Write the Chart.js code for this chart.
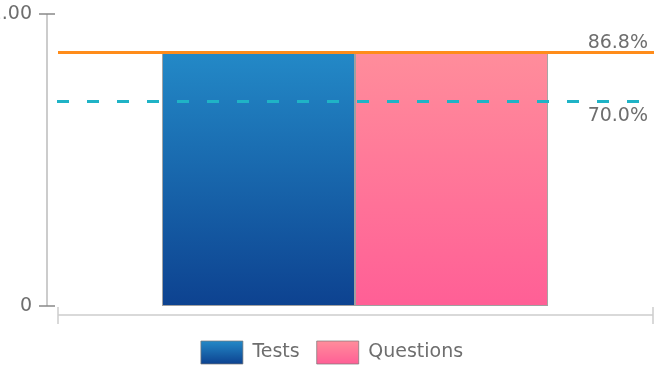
<!DOCTYPE html>
<html>
<head>
<meta charset="utf-8">
<script src="https://cdn.jsdelivr.net/npm/chart.js@4"></script>
<style>
  html, body { margin: 0; padding: 0; background: #fff; }
  #wrap { width: 654px; height: 366px; }
</style>
</head>
<body>
<div id="wrap"><canvas id="chart"></canvas></div>
<script>
// chart data
const categories = [''];
const seriesNames = ['Tests', 'Questions'];
const testsValues = [0.868];
const questionsValues = [0.868];
const yTickValues = [0, 1];
const yTickLabels = ['0', '1.00'];
const refValues = [0.868, 0.70];
const refLabels = ['86.8%', '70.0%'];

const gradStops = {
    Tests: ['#2389c7', '#0d4290'],
    Questions: ['#ff8d9b', '#ff5f96']
};

function barGradient(context, name) {
    const chart = context.chart;
    const area = chart.chartArea;
    if (!area || context.raw === undefined) return gradStops[name][1];
    const y = chart.scales.y;
    const g = chart.ctx.createLinearGradient(0, y.getPixelForValue(context.raw), 0, y.getPixelForValue(0));
    g.addColorStop(0, gradStops[name][0]);
    g.addColorStop(1, gradStops[name][1]);
    return g;
}

// axes drawn apart from the plot, plus the two reference lines
const extrasPlugin = {
    id: 'extras',
    beforeDraw(chart) {
        const legend = chart.legend;
        if (!legend || !legend.legendItems) return;
        legend.legendItems.forEach((item, i) => {
            const hb = legend.legendHitBoxes[i];
            if (!hb) return;
            const stops = gradStops[item.text];
            const g = chart.ctx.createLinearGradient(0, hb.top, 0, hb.top + hb.height);
            g.addColorStop(0, stops[0]);
            g.addColorStop(1, stops[1]);
            item.fillStyle = g;
        });
    },
    afterDatasetsDraw(chart) {
        const ctx = chart.ctx;
        const area = chart.chartArea;
        const y = chart.scales.y;
        ctx.save();

        // reference lines
        const y1 = y.getPixelForValue(refValues[0]);
        ctx.strokeStyle = '#ff8c1a';
        ctx.lineWidth = 3;
        ctx.beginPath();
        ctx.moveTo(area.left, y1);
        ctx.lineTo(chart.width, y1);
        ctx.stroke();

        const y2 = y.getPixelForValue(refValues[1]);
        ctx.strokeStyle = '#1fb3c6';
        ctx.setLineDash([12, 18]);
        ctx.beginPath();
        ctx.moveTo(area.left - 1, y2);
        ctx.lineTo(chart.width, y2);
        ctx.stroke();
        ctx.setLineDash([]);

        ctx.fillStyle = '#6e6e6e';
        ctx.font = '19px "DejaVu Sans"';
        ctx.textAlign = 'right';
        ctx.textBaseline = 'alphabetic';
        ctx.fillText(refLabels[0], chart.width - 6, y1 - 5);
        ctx.fillText(refLabels[1], chart.width - 6, y2 + 19);

        // y axis
        const ax = area.left - 11;
        ctx.strokeStyle = '#cccccc';
        ctx.lineWidth = 2;
        ctx.beginPath();
        ctx.moveTo(ax, y.getPixelForValue(yTickValues[yTickValues.length - 1]));
        ctx.lineTo(ax, y.getPixelForValue(yTickValues[0]));
        ctx.stroke();
        ctx.strokeStyle = '#888';
        ctx.lineWidth = 1.5;
        ctx.textBaseline = 'middle';
        yTickValues.forEach((v, i) => {
            const py = y.getPixelForValue(v);
            ctx.beginPath();
            ctx.moveTo(ax - 8, py);
            ctx.lineTo(ax + 8, py);
            ctx.stroke();
            ctx.fillText(yTickLabels[i], ax - 15, py);
        });

        // x axis
        const xy = area.bottom + 9;
        ctx.strokeStyle = '#d9d9d9';
        ctx.lineWidth = 2;
        ctx.beginPath();
        ctx.moveTo(area.left, xy);
        ctx.lineTo(area.right + 1, xy);
        ctx.stroke();
        ctx.strokeStyle = '#cccccc';
        ctx.lineWidth = 1.5;
        [area.left, area.right + 1].forEach(px => {
            ctx.beginPath();
            ctx.moveTo(px, xy - 8);
            ctx.lineTo(px, xy + 9);
            ctx.stroke();
        });
        ctx.restore();
    }
};

Chart.defaults.font.family = '"DejaVu Sans", sans-serif';
Chart.defaults.font.size = 19;
Chart.defaults.color = '#6e6e6e';

new Chart(document.getElementById('chart'), {
    type: 'bar',
    data: {
        labels: categories,
        datasets: [{
            label: seriesNames[0],
            data: testsValues,
            backgroundColor: ctx => barGradient(ctx, 'Tests'),
            borderColor: 'rgba(120, 120, 120, 0.7)',
            borderWidth: 1,
            borderSkipped: false
        }, {
            label: seriesNames[1],
            data: questionsValues,
            backgroundColor: ctx => barGradient(ctx, 'Questions'),
            borderColor: 'rgba(120, 120, 120, 0.7)',
            borderWidth: 1,
            borderSkipped: false
        }]
    },
    options: {
        responsive: true,
        maintainAspectRatio: false,
        animation: false,
        categoryPercentage: 0.65,
        barPercentage: 1,
        layout: {
            padding: { left: 12, right: 2, top: 14, bottom: -8 }
        },
        plugins: {
            legend: {
                position: 'bottom',
                labels: {
                    boxWidth: 42,
                    boxHeight: 23,
                    padding: 17,
                    color: '#6e6e6e'
                }
            },
            tooltip: { enabled: false }
        },
        scales: {
            y: {
                display: true,
                min: 0,
                max: 1,
                grid: { display: false },
                border: { display: false },
                ticks: { display: false },
                afterFit: scale => { scale.width = 46; }
            },
            x: {
                display: true,
                grid: { display: false },
                border: { display: false },
                ticks: { display: false },
                afterFit: scale => { scale.height = 18; }
            }
        }
    },
    plugins: [extrasPlugin]
});
</script>
</body>
</html>
